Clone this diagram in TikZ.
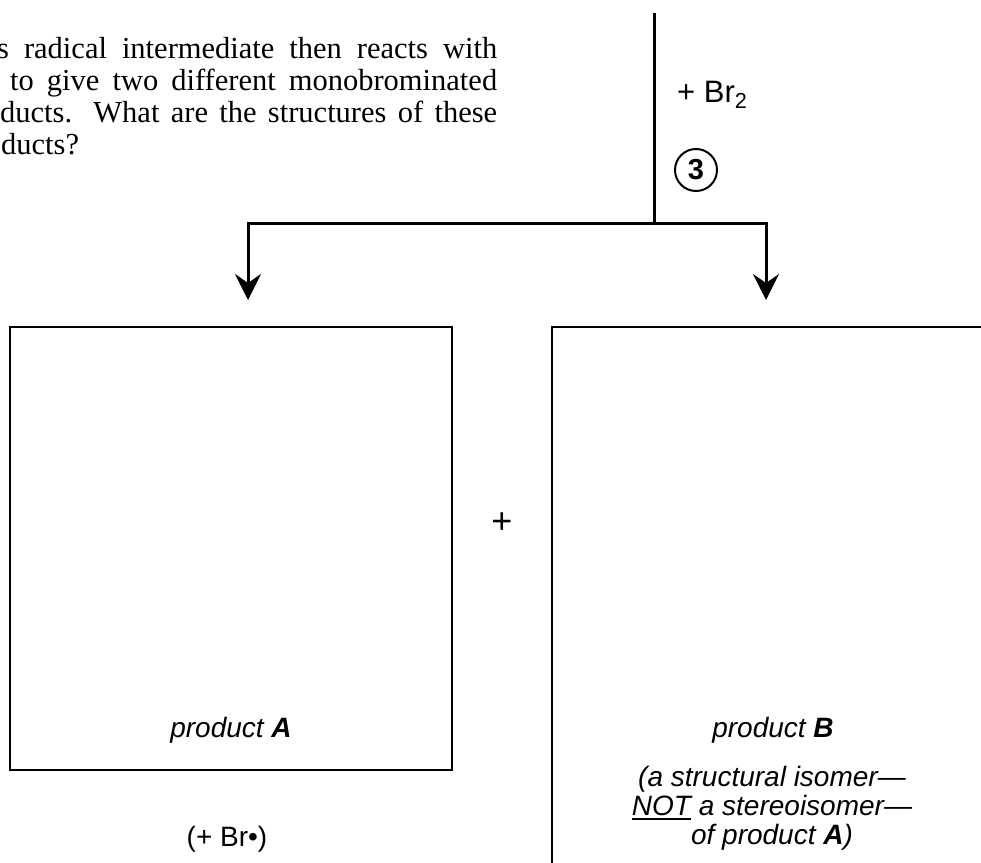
\documentclass[tikz,border=0pt]{standalone}
\usepackage{fontspec}
\setmainfont{Liberation Serif}
\newfontfamily\arial{Liberation Sans}
\usetikzlibrary{arrows.meta}
\newcommand\thickul[1]{{\setbox0\hbox{#1}\rlap{\rule[-4.5pt]{\wd0}{1.8pt}}\box0}}
\begin{document}
\begin{tikzpicture}[x=1pt,y=-1pt,
  para/.style={anchor=base west, inner sep=0pt, font=\fontsize{30.5}{32}\selectfont},
  sans/.style={inner sep=0pt, font=\arial\fontsize{28}{29}\selectfont},
  note/.style={sans, anchor=base, font=\arial\itshape\fontsize{28}{29}\selectfont},
  flow/.style={line width=3pt},
  arr/.style={flow, -{Stealth[length=26pt,width=26pt,inset=9pt]}},
  productbox/.style={draw, line width=2pt, minimum width=442pt, inner sep=0pt}
]
\useasboundingbox (0,0) rectangle (981,862);
% question text (clipped at left)
\node[para] (l1) at (-3,58) {\makebox[500pt][s]{s radical intermediate then reacts with}};
\node[para] (l2) at (10,90) {\makebox[487pt][s]{to give two different monobrominated}};
\node[para] (l3) at (0,122) {\makebox[497pt][s]{ducts. What are the structures of these}};
\node[para] (l4) at (1,154) {ducts?};
% reagent
\node[sans, anchor=base west, font=\arial\fontsize{31}{32}\selectfont] (br2) at (677,102) {+ Br\textsubscript{2}};
\node[circle, draw, line width=2pt, minimum size=42pt, inner sep=0pt, font=\arial\bfseries\fontsize{29}{30}\selectfont] (step3) at (696,170) {3};
% connectors
\coordinate (top) at (654,13);
\coordinate (split) at (654,223);
\coordinate (leftend) at (248,300);
\coordinate (rightend) at (766,300);
\draw[flow] (top) -- (split);
\draw[arr] (split) -| (leftend);
\draw[arr] (split) -| (rightend);
% product boxes
\node[productbox, minimum height=443pt] (boxA) at (231,548.5) {};
\node[productbox, minimum height=700pt] (boxB) at (773,677) {};
\node[sans, font=\arial\fontsize{36}{36}\selectfont] (plus) at (502,523) {+};
\node[note] (labA) at (231,737) {product \textbf{A}};
\node[sans, anchor=base] (brdot) at (227,846) {(+ Br•)};
\node[note] (labB) at (773,737) {product \textbf{B}};
\node[note] (noteB1) at (772,786) {(a structural isomer—};
\node[note] (noteB2) at (772,815) {\thickul{NOT} a stereoisomer—};
\node[note] (noteB3) at (772,844) {of product \textbf{A})};
\end{tikzpicture}
\end{document}
